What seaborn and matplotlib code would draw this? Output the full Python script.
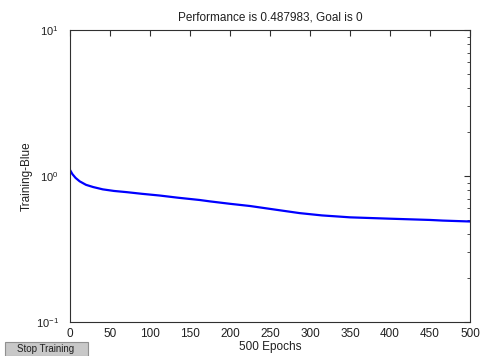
import matplotlib
matplotlib.use("Agg")
import matplotlib.pyplot as plt
import matplotlib.ticker as mticker
from matplotlib.patches import Rectangle
import seaborn as sns
import pandas as pd

epochs = [0, 3, 7, 12, 20, 29, 41, 55, 71, 90, 112, 135, 162, 175, 200, 225, 255, 287, 315, 337, 350, 400, 450, 466, 500]
perf = [1.10, 1.03, 0.97, 0.92, 0.87, 0.84, 0.81, 0.79, 0.775, 0.755, 0.735, 0.71, 0.685, 0.670, 0.645, 0.623, 0.59, 0.557, 0.537, 0.527, 0.521, 0.51, 0.50, 0.495, 0.488]
x_ticks = [0, 50, 100, 150, 200, 250, 300, 350, 400, 450, 500]

sns.set_style("white")
plt.rcParams['font.family'] = ['Liberation Sans', 'DejaVu Sans']
plt.rcParams['mathtext.default'] = 'regular'
plt.rcParams['axes.unicode_minus'] = False

df = pd.DataFrame({"epoch": epochs, "perf": perf})

fig = plt.figure(figsize=(4.81, 3.56), dpi=100)
fig.patch.set_facecolor("white")
ax = fig.add_axes([70/481, 1 - 322/356, 400/481, 292/356])
sns.lineplot(data=df, x="epoch", y="perf", ax=ax, color="#0000ff", linewidth=1.6)

ax.set_yscale("log")
ax.set_ylim(0.1, 10)
ax.set_xlim(0, 500)
ax.set_xticks(x_ticks)
ax.set_xticklabels([str(t) for t in x_ticks])
ax.yaxis.set_major_locator(mticker.LogLocator(base=10, numticks=5))
ax.yaxis.set_minor_locator(mticker.LogLocator(base=10, subs=range(2, 10), numticks=20))
ax.yaxis.set_minor_formatter(mticker.NullFormatter())

for s in ax.spines.values():
    s.set_color("#303030")
    s.set_linewidth(0.8)
ax.tick_params(axis="both", which="both", direction="in", top=True, right=True,
               labelsize=8.5, colors="#303030", labelcolor="#202020")
ax.tick_params(axis="both", which="major", length=4)
ax.tick_params(axis="both", which="minor", length=2.5)
ax.tick_params(axis="x", which="major", pad=4)
ax.tick_params(axis="y", which="major", pad=8, labelsize=8)

ax.set_title("Performance is 0.487983, Goal is 0", fontsize=8.5, pad=7, color="#202020")
ax.set_xlabel("500 Epochs", fontsize=8.5, labelpad=1, color="#202020")
ax.set_ylabel("Training-Blue", fontsize=8.5, labelpad=2, color="#202020")

btn = Rectangle((5/481, 0), 83/481, 14/356, transform=fig.transFigure,
                facecolor="#c8c8c8", edgecolor="#909090", linewidth=0.8)
fig.patches.append(btn)
fig.text(46/481, 7/356, "Stop Training", fontsize=7, ha="center", va="center", color="#202020")

fig.savefig("out.png", dpi=100)
